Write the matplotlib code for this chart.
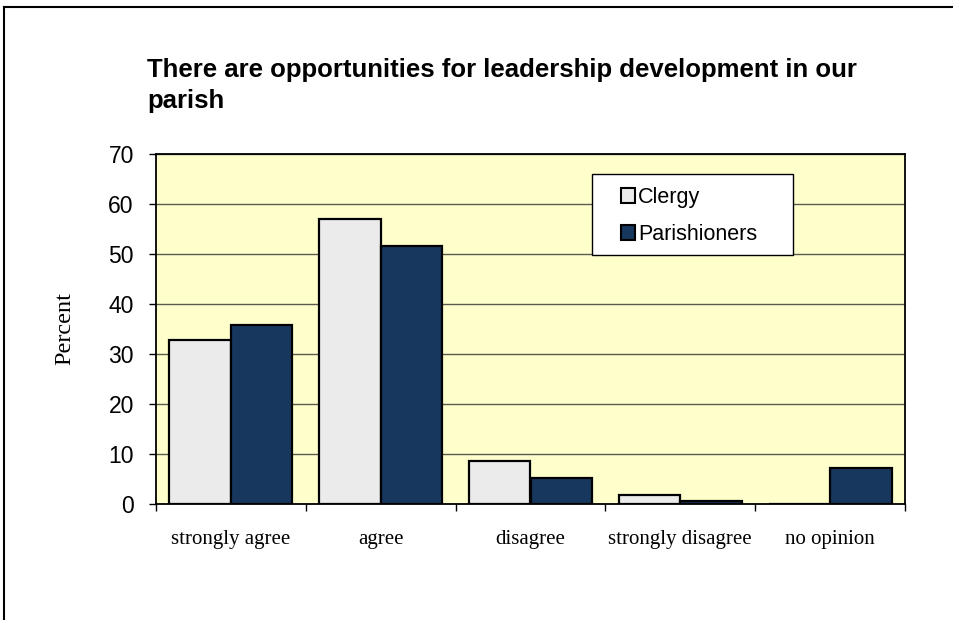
import numpy as np
import matplotlib.pyplot as plt
from matplotlib.patches import Rectangle

# Dados
categorias = ['strongly agree', 'agree', 'disagree', 'strongly disagree', 'no opinion']
clergy = [32.8, 57.0, 8.7, 1.8, 0.0]
parishioners = [35.7, 51.5, 5.3, 0.6, 7.2]

fig = plt.figure(figsize=(9.54, 6.2), dpi=100)
ax = fig.add_axes([156 / 954, 1 - 504 / 620, 749 / 954, 350 / 620])
ax.set_facecolor('#ffffcc')

x = np.arange(len(categorias))
largura = 0.41
ax.bar(x - largura / 2, clergy, largura, color='#ebebeb', edgecolor='black',
       linewidth=1.6, label='Clergy', zorder=3)
ax.bar(x + largura / 2, parishioners, largura, color='#17375e', edgecolor='black',
       linewidth=1.6, label='Parishioners', zorder=3)

ax.set_xlim(-0.5, len(categorias) - 0.5)
ax.set_ylim(0, 70)
ax.set_yticks(range(0, 71, 10))
ax.yaxis.grid(True, color='#5a5a50', linewidth=1, zorder=0)
ax.set_axisbelow(True)

# ticks do eixo x nas divisões entre grupos
ax.set_xticks(np.arange(-0.5, len(categorias), 1))
ax.set_xticklabels([])
ax.set_xticks(x, minor=True)
ax.set_xticklabels(categorias, minor=True, fontfamily='Liberation Serif', fontsize=15)
ax.tick_params(axis='x', which='minor', length=0, pad=19)
ax.tick_params(axis='x', which='major', length=5, width=1)
ax.tick_params(axis='y', length=5, width=1, labelsize=16.5, pad=11)
for lab in ax.get_yticklabels():
    lab.set_fontfamily('Liberation Sans')

for s in ax.spines.values():
    s.set_linewidth(1.3)

ax.set_ylabel('Percent', fontfamily='Liberation Serif', fontsize=17.5, labelpad=24)

# caixa da legenda desenhada à parte
caixa = Rectangle(((592 - 156) / 749, (504 - 255) / 350), 201 / 749, 81 / 350,
                  transform=ax.transAxes, facecolor='white', edgecolor='black',
                  linewidth=1, zorder=4)
ax.add_patch(caixa)
leg = ax.legend(loc='center left', bbox_to_anchor=((621 - 156) / 749, (504 - 216) / 350),
                frameon=False, prop={'family': 'Liberation Sans', 'size': 15.5},
                handlelength=0.65, handleheight=0.65, handletextpad=0.15,
                labelspacing=0.75, borderpad=0, borderaxespad=0)
leg.set_zorder(5)
for h in leg.legend_handles:
    h.set_linewidth(1.5)

fig.text(147 / 954, 1 - 77 / 620,
         'There are opportunities for leadership development in our',
         fontfamily='Liberation Sans', fontweight='bold', fontsize=18.5,
         va='baseline', ha='left')
fig.text(147 / 954, 1 - 108 / 620, 'parish',
         fontfamily='Liberation Sans', fontweight='bold', fontsize=18.5,
         va='baseline', ha='left')

# moldura da figura (esquerda e topo)
fig.add_artist(plt.Line2D([4 / 954, 4 / 954], [0, 1 - 7 / 620], color='black',
                          linewidth=1.5, transform=fig.transFigure))
fig.add_artist(plt.Line2D([4 / 954, 1], [1 - 7 / 620, 1 - 7 / 620], color='black',
                          linewidth=1.5, transform=fig.transFigure))

fig.savefig('out.png', dpi=100)
